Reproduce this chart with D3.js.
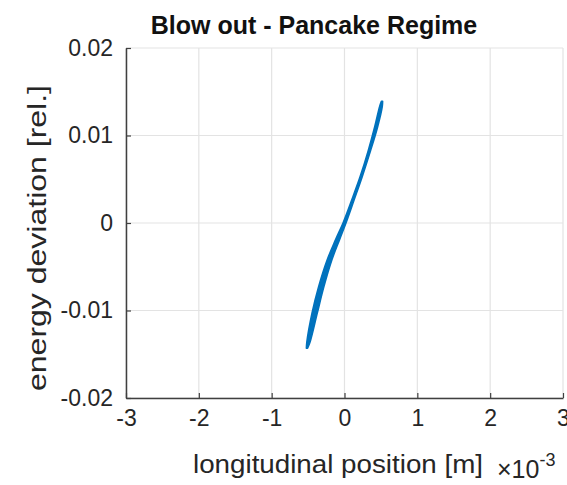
<!DOCTYPE html>
<html>
<head>
<meta charset="utf-8">
<script src="https://cdn.jsdelivr.net/npm/d3@7"></script>
<style>
  body { margin: 0; background: #fff; }
  text { font-family: "Liberation Sans", Arial, sans-serif; }
</style>
</head>
<body>
<div id="chart"></div>
<script>
// tick labels
const xTicks = [-3, -2, -1, 0, 1, 2, 3];
const yTicks = [-0.02, -0.01, 0, 0.01, 0.02];

// particle band: centre position (x1e-3 m), energy deviation, half-width (x1e-3 m)
const bandEnergy = [-0.0143, -0.0136, -0.0103, -0.0073, -0.0042, -0.0019, 0, 0.0026, 0.0053, 0.0083, 0.0110, 0.0133, 0.0139];
const bandCentre = [-0.515, -0.495, -0.41, -0.32, -0.205, -0.095, 0, 0.114, 0.229, 0.343, 0.435, 0.50, 0.515];
const bandHalfWidth = [0.008, 0.022, 0.036, 0.036, 0.032, 0.027, 0.020, 0.016, 0.014, 0.016, 0.020, 0.018, 0.008];

const width = 567;
const height = 485;
const margin = { top: 48, right: 4, bottom: 87, left: 126 };
const innerW = width - margin.left - margin.right;
const innerH = height - margin.top - margin.bottom;

const svg = d3.select('#chart')
    .append('svg')
    .attr('width', width)
    .attr('height', height);

const g = svg.append('g')
    .attr('transform', `translate(${margin.left},${margin.top})`);

const x = d3.scaleLinear().domain([-3, 3]).range([0, innerW]);
const y = d3.scaleLinear().domain([-0.02, 0.02]).range([innerH, 0]);

// grid
g.selectAll('.gx')
    .data(xTicks)
    .enter()
    .append('line')
    .attr('x1', d => x(d)).attr('x2', d => x(d))
    .attr('y1', 0).attr('y2', innerH)
    .attr('stroke', '#e3e3e3')
    .attr('stroke-width', 1.2);

g.selectAll('.gy')
    .data(yTicks)
    .enter()
    .append('line')
    .attr('x1', 0).attr('x2', innerW)
    .attr('y1', d => y(d)).attr('y2', d => y(d))
    .attr('stroke', '#e3e3e3')
    .attr('stroke-width', 1.2);

// data band
const band = bandEnergy.map((e, i) => ({ e: e, c: bandCentre[i], w: bandHalfWidth[i] }));

const area = d3.area()
    .curve(d3.curveCatmullRom)
    .y(d => y(d.e))
    .x0(d => x(d.c - d.w))
    .x1(d => x(d.c + d.w));

g.append('path')
    .datum(band)
    .attr('fill', '#0072BD')
    .attr('stroke', '#0072BD')
    .attr('stroke-width', 1.6)
    .attr('stroke-linejoin', 'round')
    .attr('d', area);

// axes
const xAxis = g.append('g')
    .attr('transform', `translate(0,${innerH})`)
    .call(d3.axisBottom(x).tickValues(xTicks).tickSizeInner(-5).tickSizeOuter(0).tickPadding(12)
        .tickFormat(d => String(d)));

const yAxis = g.append('g')
    .call(d3.axisLeft(y).tickValues(yTicks).tickSizeInner(-5).tickSizeOuter(0).tickPadding(13)
        .tickFormat(d => d === 0 ? '0' : (d < 0 ? '-' : '') + Math.abs(d).toFixed(2)));

[xAxis, yAxis].forEach(a => {
    a.select('.domain').attr('stroke', '#404040').attr('stroke-width', 1.5);
    a.selectAll('.tick line').attr('stroke', '#404040').attr('stroke-width', 1.2);
    a.selectAll('.tick text')
        .attr('fill', '#262626')
        .style('font-size', '23px')
        .style('font-family', '"Liberation Sans", Arial, sans-serif');
});

// title
svg.append('text')
    .attr('x', 314)
    .attr('y', 34)
    .attr('text-anchor', 'middle')
    .attr('font-size', '25px')
    .attr('font-weight', 'bold')
    .attr('fill', '#111')
    .text('Blow out - Pancake Regime');

// x label
svg.append('text')
    .attr('x', 338)
    .attr('y', 473)
    .attr('text-anchor', 'middle')
    .attr('font-size', '25px')
    .attr('textLength', 290)
    .attr('lengthAdjust', 'spacingAndGlyphs')
    .attr('fill', '#262626')
    .text('longitudinal position [m]');

// exponent
const expo = svg.append('text')
    .attr('x', 497)
    .attr('y', 478)
    .attr('font-size', '25px')
    .attr('fill', '#262626');
expo.append('tspan').text('\u00d710');
expo.append('tspan').attr('dy', -12).attr('font-size', '18px').text('-3');

// y label
svg.append('text')
    .attr('transform', 'translate(46,238) rotate(-90)')
    .attr('text-anchor', 'middle')
    .attr('font-size', '25px')
    .attr('textLength', 306)
    .attr('lengthAdjust', 'spacingAndGlyphs')
    .attr('fill', '#262626')
    .text('energy deviation [rel.]');
</script>
</body>
</html>
